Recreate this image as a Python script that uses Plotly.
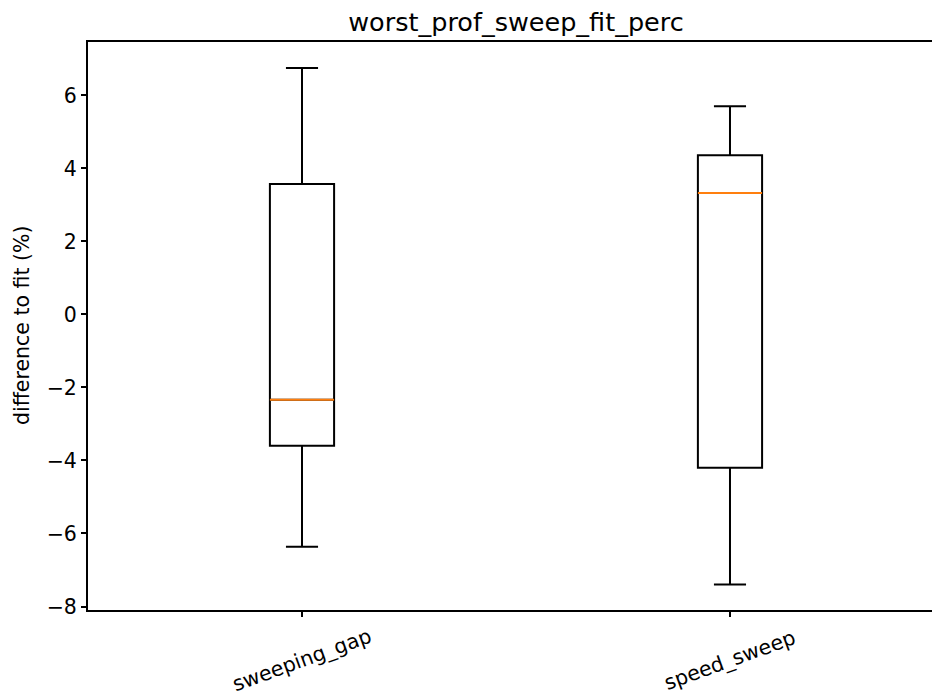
import plotly.graph_objects as go

# Box statistics per configuration (difference to fit, %)
categories = ["sweeping_gap", "speed_sweep"]
positions = [1, 2]
lower_whisker = [-6.36, -7.40]
q1 = [-3.60, -4.20]
median = [-2.34, 3.33]
q3 = [3.57, 4.36]
upper_whisker = [6.75, 5.70]

box_width = 0.15
y_ticks = [-8, -6, -4, -2, 0, 2, 4, 6]

W, H = 932, 696
left, right, top, bottom = 88, 0, 41.5, 85.5
font_family = "DejaVu Sans"
label_size = 20.5

fig = go.Figure()

fig.add_trace(go.Box(
    x=positions,
    q1=q1,
    median=median,
    q3=q3,
    lowerfence=lower_whisker,
    upperfence=upper_whisker,
    width=box_width,
    whiskerwidth=0.5,
    boxpoints=False,
    fillcolor="rgba(0,0,0,0)",
    line=dict(color="black", width=2),
    showlegend=False,
    hoverinfo="skip",
))

# Orange median lines drawn across each box
mx, my = [], []
for p, m in zip(positions, median):
    mx += [p - box_width / 2, p + box_width / 2, None]
    my += [m, m, None]
fig.add_trace(go.Scatter(
    x=mx, y=my, mode="lines",
    line=dict(color="#ff7f0e", width=2),
    showlegend=False, hoverinfo="skip",
))

# Category labels, rotated and centred under each tick
for p, name in zip(positions, categories):
    fig.add_annotation(
        x=p, xref="x", y=-0.0888, yref="paper",
        text=name, textangle=-20, showarrow=False,
        xanchor="center", yanchor="middle",
        font=dict(family=font_family, size=label_size, color="black"),
    )

# Y-axis label
fig.add_annotation(
    x=(22 - left) / (W - left - right), xref="paper", y=0.5, yref="paper",
    text="difference to fit (%)", textangle=-90, showarrow=False,
    xanchor="center", yanchor="middle",
    font=dict(family=font_family, size=label_size, color="black"),
)

fig.update_layout(
    width=W, height=H,
    margin=dict(l=left, r=right, t=top, b=bottom, pad=0),
    paper_bgcolor="white", plot_bgcolor="white",
    font=dict(family=font_family, size=label_size, color="black"),
    title=dict(
        text="worst_prof_sweep_fit_perc",
        x=(516 - left) / (W - left - right), xref="paper", xanchor="center",
        y=1 - 22 / H, yref="container", yanchor="middle",
        font=dict(family=font_family, size=25.5, color="black"),
    ),
    xaxis=dict(
        range=[0.5, 2.472],
        tickvals=positions, showticklabels=False,
        ticks="outside", ticklen=5, tickwidth=2, tickcolor="black",
        showline=True, linecolor="black", linewidth=2, mirror=True,
        showgrid=False, zeroline=False,
    ),
    yaxis=dict(
        range=[-8.096, 7.463],
        tickvals=y_ticks,
        ticks="outside", ticklen=5, tickwidth=2, tickcolor="black",
        showline=True, linecolor="black", linewidth=2,
        showgrid=False, zeroline=False,
        tickfont=dict(family=font_family, size=label_size, color="black"),
    ),
)

fig.write_html("out.html")
